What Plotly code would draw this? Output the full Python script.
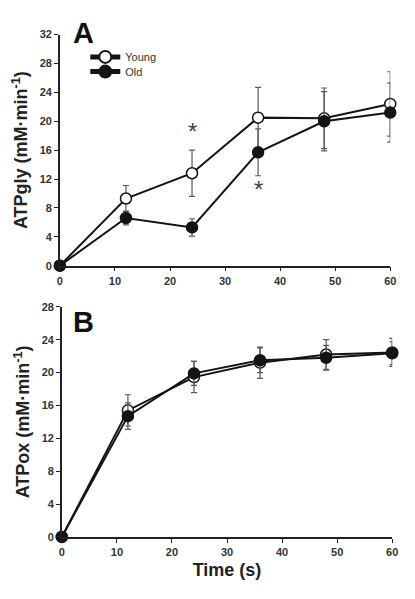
import plotly.graph_objects as go

time_s = [0, 12, 24, 36, 48, 60]

# panel A: glycolytic ATP flux
gly_young = [0, 9.3, 12.8, 20.5, 20.4, 22.4]
gly_young_err = [0, 1.8, 3.2, 4.2, 4.2, 4.45]
gly_old = [0, 6.6, 5.3, 15.7, 20.0, 21.2]
gly_old_err = [0, 0.95, 1.2, 3.25, 4.1, 4.1]

# panel B: oxidative ATP flux
ox_young = [0, 15.4, 19.45, 21.2, 22.2, 22.45]
ox_young_err = [0, 1.9, 1.9, 1.9, 1.8, 1.7]
ox_old = [0, 14.7, 19.9, 21.5, 21.8, 22.35]
ox_old_err = [0, 1.6, 1.45, 1.5, 1.5, 1.4]

star_x = [24, 36]
star_y = [18.6, 10.6]

FONT = "Arial, Liberation Sans, sans-serif"
# page body has an 8px margin, so the figure is a bit smaller than the window
OFF = 8
W, H = 399, 580


def fx(p):
    return (p - OFF) / W


def fy(p):
    return 1 - (p - OFF) / H


def series(x, y, err, name, filled, xa, ya, show, leg="legend"):
    return go.Scatter(
        x=x, y=y, name=name, mode="lines+markers",
        xaxis=xa, yaxis=ya, showlegend=show, legend=leg, cliponaxis=False,
        line=dict(color="#141414", width=2),
        marker=dict(size=11, symbol="circle",
                    color="#141414" if filled else "white",
                    line=dict(color="#141414", width=1.5)),
        error_y=dict(type="data", array=err, color="#5a5a5a",
                     thickness=1.2, width=3),
    )


fig = go.Figure()
fig.add_trace(series(time_s, gly_young, gly_young_err, "Young", False, "x", "y", True, "legend"))
fig.add_trace(series(time_s, gly_old, gly_old_err, "Old", True, "x", "y", True, "legend2"))
fig.add_trace(series(time_s, ox_young, ox_young_err, "Young", False, "x2", "y2", False))
fig.add_trace(series(time_s, ox_old, ox_old_err, "Old", True, "x2", "y2", False))

for sx, sy in zip(star_x, star_y):
    fig.add_annotation(x=sx, y=sy, xref="x", yref="y", text="*", showarrow=False,
                       font=dict(family=FONT, size=24, color="#444"))

tick = dict(family=FONT, size=11, color="#333", weight="bold")
ax_common = dict(showline=True, linecolor="#222", linewidth=1.5, ticks="outside",
                 ticklen=4, tickcolor="#222", tickwidth=1.2, showgrid=False,
                 zeroline=False, tickfont=tick)
title_font = dict(family=FONT, size=18, color="#222", weight="bold")
leg_common = dict(xanchor="left", yanchor="top", bgcolor="rgba(0,0,0,0)",
                  itemsizing="constant", font=dict(family=FONT, size=11, color="#333"))

fig.update_layout(
    width=W, height=H, margin=dict(l=0, r=0, t=0, b=0),
    plot_bgcolor="white", paper_bgcolor="white",
    xaxis=dict(domain=[fx(58), fx(396)], anchor="y", range=[0, 60], dtick=10, **ax_common),
    yaxis=dict(domain=[fy(265), fy(29)], anchor="x", range=[0, 32], dtick=4,
               title=dict(text="ATPgly (mM·min<sup>-1</sup>)", standoff=7, font=title_font),
               **ax_common),
    xaxis2=dict(domain=[fx(60), fx(398)], anchor="y2", range=[0, 60], dtick=10,
                title=dict(text="Time (s)", standoff=6, font=title_font),
                **ax_common),
    yaxis2=dict(domain=[fy(542), fy(307)], anchor="x2", range=[0, 28], dtick=4,
                title=dict(text="ATPox (mM·min<sup>-1</sup>)", standoff=7, font=title_font),
                **ax_common),
    legend=dict(x=fx(84), y=fy(37), **leg_common),
    legend2=dict(x=fx(84), y=fy(52), **leg_common),
)

fig.add_annotation(x=fx(82), y=fy(27), xref="paper", yref="paper", text="<b>A</b>",
                   xanchor="center", yanchor="middle", showarrow=False,
                   font=dict(family=FONT, size=29, color="#111"))
fig.add_annotation(x=fx(82), y=fy(322), xref="paper", yref="paper", text="<b>B</b>",
                   xanchor="center", yanchor="middle", showarrow=False,
                   font=dict(family=FONT, size=29, color="#111"))

fig.write_html("out.html")
